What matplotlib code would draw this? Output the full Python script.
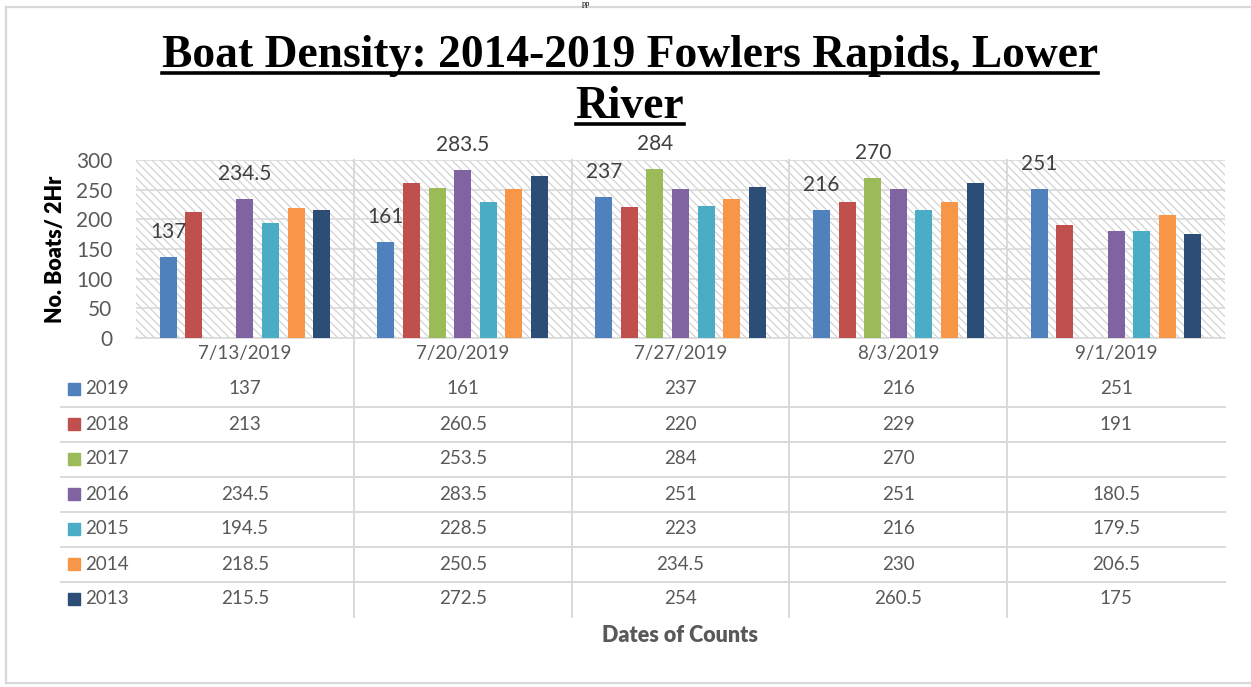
import matplotlib
matplotlib.use("Agg")
import matplotlib.pyplot as plt
import matplotlib.transforms as mtransforms
from matplotlib.lines import Line2D
from matplotlib.patches import Rectangle
import numpy as np

# --- data -------------------------------------------------------------
dates = ['7/13/2019', '7/20/2019', '7/27/2019', '8/3/2019', '9/1/2019']
years = ['2019', '2018', '2017', '2016', '2015', '2014', '2013']
v2019 = [137, 161, 237, 216, 251]
v2018 = [213, 260.5, 220, 229, 191]
v2017 = [None, 253.5, 284, 270, None]
v2016 = [234.5, 283.5, 251, 251, 180.5]
v2015 = [194.5, 228.5, 223, 216, 179.5]
v2014 = [218.5, 250.5, 234.5, 230, 206.5]
v2013 = [215.5, 272.5, 254, 260.5, 175]
series = [v2019, v2018, v2017, v2016, v2015, v2014, v2013]
colors = ['#4F81BD', '#C0504D', '#9BBB59', '#8064A2', '#4BACC6', '#F79646', '#2C4D75']
yticks = [0, 50, 100, 150, 200, 250, 300]

TXT = '#595959'
GRID = '#d9d9d9'
BODY = 'Lato'

W, H = 1251, 687


def fx(px):
    return px / W


def fy(py):
    return 1 - py / H


plt.rcParams['hatch.linewidth'] = 0.9
fig = plt.figure(figsize=(W / 100, H / 100), dpi=100)

# outer frame (open on the right side)
fig.add_artist(Line2D([fx(6), 1], [fy(7), fy(7)], color=GRID, lw=1.6))
fig.add_artist(Line2D([fx(6), 1], [fy(683), fy(683)], color=GRID, lw=1.6))
fig.add_artist(Line2D([fx(6), fx(6)], [fy(7), fy(683)], color=GRID, lw=1.6))
# header text left over from the page above
fig.text(fx(586), fy(0), 'pp', ha='center', va='top', fontsize=6,
         family='Liberation Serif', color='black')

# --- plot area --------------------------------------------------------
left, right, top, bottom = 136, 1225, 160, 338
ax = fig.add_axes([fx(left), fy(bottom), fx(right - left), (bottom - top) / H])
ax.set_xlim(0, len(dates))
ax.set_ylim(0, 300)
ax.add_patch(Rectangle((0, 0), 1, 1, transform=ax.transAxes, facecolor='white',
                       edgecolor='#d3d3d3', hatch='\\\\\\\\', lw=0, zorder=0))

for yv in yticks:
    ax.axhline(yv, color=GRID, lw=1.2, zorder=1)

x = np.arange(len(dates)) + 0.5
step, width = 0.1175, 0.078
arr = np.array([[np.nan if v is None else v for v in s] for s in series], dtype=float)
for k, (vals, c) in enumerate(zip(arr, colors)):
    xs = x + (k - 3) * step
    ok = ~np.isnan(vals)
    ax.bar(xs[ok], vals[ok], width=width, color=c, zorder=3)

# data labels: 2019 series plus the tallest bar of each date
for i in range(len(dates)):
    kmax = int(np.nanargmax(arr[:, i]))
    for k in sorted({0, kmax}):
        ax.annotate(f'{arr[k, i]:g}', (x[i] + (k - 3) * step, arr[k, i]),
                    xytext=(0, 18), textcoords='offset points', ha='center',
                    va='center', fontsize=15, family=BODY, color='#404040')

ax.set_yticks(yticks)
ax.set_xticks([])
ax.tick_params(axis='y', length=0, pad=17, labelsize=15, labelcolor=TXT)
for lab in ax.get_yticklabels():
    lab.set_family(BODY)
for s in ['top', 'right', 'left']:
    ax.spines[s].set_visible(False)
ax.spines['bottom'].set_color(GRID)
ax.spines['bottom'].set_linewidth(1.2)

ax.set_ylabel('No. Boats/ 2Hr', fontsize=15.5, fontweight='heavy', family=BODY,
              color='black')
ax.yaxis.set_label_coords((66 - left) / (right - left), 0.5)

# --- data table -------------------------------------------------------
blend = mtransforms.blended_transform_factory(ax.transData, fig.transFigure)
for b in range(1, len(dates)):
    fig.add_artist(Line2D([b, b], [fy(top), fy(617)], color=GRID, lw=1.4,
                          transform=blend))
for i, d in enumerate(dates):
    fig.text(x[i], fy(354), d, transform=blend, ha='center', va='center',
             fontsize=13.5, family=BODY, color=TXT)

row_y = [389 + 35 * r for r in range(len(years))]
for r, (yr, vals, c) in enumerate(zip(years, arr, colors)):
    fig.add_artist(Line2D([fx(74)], [fy(row_y[r])], marker='s', markersize=8.5,
                          color=c, lw=0))
    fig.text(fx(85), fy(row_y[r]), yr, ha='left', va='center', fontsize=13.5,
             family=BODY, color=TXT)
    for i in range(len(dates)):
        if not np.isnan(vals[i]):
            fig.text(x[i], fy(row_y[r]), f'{vals[i]:g}', transform=blend,
                     ha='center', va='center', fontsize=13.5, family=BODY, color=TXT)
    if r < len(years) - 1:
        ly = row_y[r] + 17.5
        fig.add_artist(Line2D([fx(61), fx(right)], [fy(ly), fy(ly)], color=GRID, lw=1.4))

fig.text(fx(680), fy(636), 'Dates of Counts', ha='center', va='center',
         fontsize=15.5, fontweight='heavy', family=BODY, color=TXT)

# --- title (underlined) ------------------------------------------------
renderer = fig.canvas.get_renderer()
for line, base in [('Boat Density: 2014-2019 Fowlers Rapids, Lower', 67),
                   ('River', 118)]:
    t = fig.text(fx(630), fy(base), line, ha='center', va='baseline', fontsize=32.8,
                 fontweight='bold', family='Liberation Serif', color='black')
    bb = t.get_window_extent(renderer)
    uy = fy(base + 5.5)
    fig.add_artist(Line2D([bb.x0 / W, bb.x1 / W], [uy, uy], color='black', lw=2.6))

fig.savefig('out.png', dpi=100)
